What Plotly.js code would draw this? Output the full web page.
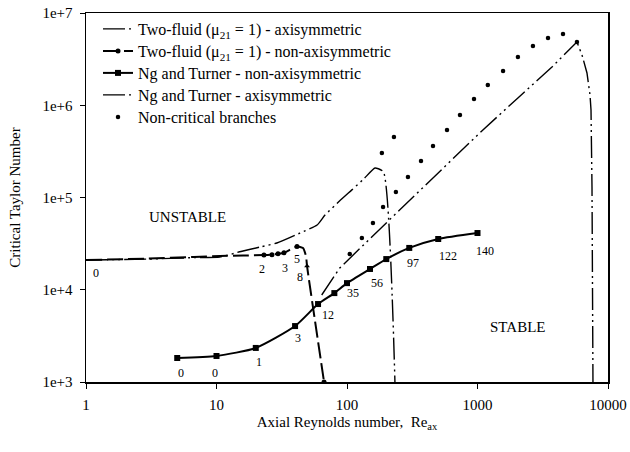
<!DOCTYPE html>
<html>
<head>
<meta charset="utf-8">
<script src="https://cdn.plot.ly/plotly-3.0.1.min.js"></script>
<style>
html,body{margin:0;padding:0;background:#fff;}
#chart{width:630px;height:452px;}
</style>
</head>
<body>
<div id="chart"></div>
<script>
// ---- Data ----
// Two-fluid (mu21 = 1) - axisymmetric
const tfaX = [1, 3, 6.7, 10.6, 15.4, 21.5, 29, 43.6, 59, 67.8, 88, 109, 135, 164, 190, 233];
const tfaY = [21000, 21500, 22300, 22600, 26000, 29000, 32100, 41200, 50300, 64500, 92000, 121000, 160000, 209000, 190000, 1000];

// Two-fluid (mu21 = 1) - non-axisymmetric
const tfnX = [1, 3, 6.7, 10.6, 16, 23.1, 26.6, 29.6, 32.9, 41.4, 46, 48.5, 49.4, 66.7];
const tfnY = [21000, 21800, 22700, 23200, 23500, 23800, 24000, 24500, 25200, 29400, 28300, 23200, 18100, 1000];
const tfnMarked = [false, false, false, false, false, true, true, true, true, true, false, false, true, true];
const tfnLabels = ['', '', '', '', '', '2', '', '', '3', '5', '', '', '8', ''];

// Ng and Turner - non-axisymmetric
const ntX = [5, 10, 20, 40, 60, 80, 100, 150, 200, 300, 500, 1000];
const ntY = [1820, 1915, 2340, 4040, 7000, 9200, 11800, 16800, 21500, 28400, 35500, 41200];
const ntLabels = ['0', '0', '1', '3', '12', '', '35', '56', '', '97', '122', '140'];

// Ng and Turner - axisymmetric
const naX = [64, 88, 203, 304, 774, 1100, 2040, 3720, 5780, 6320, 6900, 7280, 7410, 7540, 7670];
const naY = [8770, 17200, 54200, 94000, 340000, 540000, 1200000, 2600000, 4850000, 3510000, 2240000, 1290000, 889000, 130000, 1000];

// Non-critical branches
const ncAX = [105, 130, 158, 189, 237, 293, 369, 456, 584, 734, 940, 1200, 1570, 2040, 2660, 3470, 4520, 5780];
const ncAY = [24400, 36400, 53000, 78900, 115000, 167000, 249000, 362000, 539000, 784000, 1170000, 1660000, 2350000, 3330000, 4390000, 5360000, 5920000, 4850000];
const ncBX = [185, 229];
const ncBY = [303000, 453000];

// Axis ticks
const xTickVals = [1, 10, 100, 1000, 10000];
const xTickText = ['1', '10', '100', '1000', '10000'];
const yTickVals = [1e3, 1e4, 1e5, 1e6, 1e7];
const yTickText = ['1e+3', '1e+4', '1e+5', '1e+6', '1e+7'];

// ---- Styling ----
const FONT = 'Liberation Serif, Times New Roman, serif';
const dashDotDot = '22px,4px,2px,4px,2px,4px';

const traces = [
  {
    x: tfaX, y: tfaY, name: 'Two-fluid (\u03bc<sub>21</sub> = 1) - axisymmetric',
    mode: 'lines', legend: 'legend',
    line: {color: '#000', width: 1.4, dash: dashDotDot, shape: 'spline', smoothing: 0.5}
  },
  {
    x: tfnX, y: tfnY, name: 'Two-fluid (\u03bc<sub>21</sub> = 1) - non-axisymmetric',
    mode: 'lines+markers', legend: 'legend2',
    line: {color: '#000', width: 2, dash: '16px,5px', shape: 'spline', smoothing: 0.5},
    marker: {
      color: '#000', size: 5,
      symbol: tfnLabels.map(l => l === '8' ? 'triangle-up' : 'circle')
    },
    selectedpoints: tfnMarked.map((m, i) => m ? i : -1).filter(i => i >= 0),
    selected: {marker: {opacity: 1}},
    unselected: {marker: {opacity: 0}}
  },
  {
    x: ntX, y: ntY, name: 'Ng and Turner - non-axisymmetric',
    mode: 'lines+markers', legend: 'legend3',
    line: {color: '#000', width: 2, shape: 'spline', smoothing: 0.6},
    marker: {color: '#000', size: 6, symbol: 'square'}
  },
  {
    x: naX, y: naY, name: 'Ng and Turner - axisymmetric',
    mode: 'lines', legend: 'legend4',
    line: {color: '#000', width: 1.4, dash: dashDotDot}
  },
  {
    x: ncAX, y: ncAY, name: 'Non-critical branches',
    mode: 'markers', legend: 'legend5',
    marker: {color: '#000', size: 4.5, symbol: 'circle'}
  },
  {
    x: ncBX, y: ncBY, name: 'Non-critical branches',
    mode: 'markers', showlegend: false,
    marker: {color: '#000', size: 4.5, symbol: 'circle'}
  }
];

// Point labels
const annotations = [];
const ntDx = [4, -2, 3, 3, 10, 0, 6, 7, 0, 4, 10, 7];
const ntDy = [-15, -17, -14, -12, -11, 0, -10, -14, 0, -15, -17, -18];
ntLabels.forEach((t, i) => {
  if (!t) return;
  annotations.push({
    x: Math.log10(ntX[i]), y: Math.log10(ntY[i]), text: t, showarrow: false,
    xshift: ntDx[i], yshift: ntDy[i], font: {family: FONT, size: 12, color: '#000'}
  });
});
const tfnDx = {'2': -2, '3': 1, '5': 0, '8': -7};
const tfnDy = {'2': -14, '3': -15, '5': -12, '8': -11};
tfnLabels.forEach((t, i) => {
  if (!t) return;
  annotations.push({
    x: Math.log10(tfnX[i]), y: Math.log10(tfnY[i]), text: t, showarrow: false,
    xshift: tfnDx[t], yshift: tfnDy[t], font: {family: FONT, size: 12, color: '#000'}
  });
});
// Leftmost "0" label for two-fluid curves
annotations.push({
  x: 0, y: Math.log10(tfaY[0]), text: '0', showarrow: false,
  xanchor: 'left', xshift: 5, yshift: -13, font: {family: FONT, size: 12, color: '#000'}
});
annotations.push({x: 0.774, y: 4.789, text: 'UNSTABLE', showarrow: false,
  font: {family: FONT, size: 15, color: '#000'}});
annotations.push({x: 3.303, y: 3.596, text: 'STABLE', showarrow: false,
  font: {family: FONT, size: 15, color: '#000'}});

const axisCommon = {
  type: 'log', showgrid: false, zeroline: false,
  showline: true, linecolor: '#000', linewidth: 1.5, mirror: true,
  ticks: 'outside', ticklen: 5, tickwidth: 1, tickcolor: '#000',
  tickfont: {family: FONT, size: 15, color: '#000'}
};

// one single-entry legend per row so each row sits where the reference has it
const plotTop = 13, plotBottom = 382;
const legendRows = [29, 51, 73, 95, 117];
function legendAt(rowPx) {
  return {
    x: 0.023, y: (plotBottom - rowPx) / (plotBottom - plotTop),
    xanchor: 'left', yanchor: 'middle',
    bgcolor: 'rgba(0,0,0,0)', borderwidth: 0,
    font: {family: FONT, size: 16, color: '#000'}
  };
}

const layout = {
  width: 630, height: 452,
  margin: {l: 86, r: 22, t: 13, b: 70},
  paper_bgcolor: '#fff', plot_bgcolor: '#fff',
  font: {family: FONT, color: '#000'},
  showlegend: true,
  legend: legendAt(legendRows[0]),
  legend2: legendAt(legendRows[1]),
  legend3: legendAt(legendRows[2]),
  legend4: legendAt(legendRows[3]),
  legend5: legendAt(legendRows[4]),
  xaxis: Object.assign({}, axisCommon, {
    range: [0, 4], tickvals: xTickVals, ticktext: xTickText,
    ticklabelstandoff: 3,
    title: {text: 'Axial Reynolds number,  Re<sub>ax</sub>', font: {family: FONT, size: 15, color: '#000'}, standoff: 5}
  }),
  yaxis: Object.assign({}, axisCommon, {
    range: [3, 7], tickvals: yTickVals, ticktext: yTickText,
    ticklabelstandoff: 4,
    title: {text: 'Critical Taylor Number', font: {family: FONT, size: 15, color: '#000'}, standoff: 18}
  }),
  annotations: annotations
};

Plotly.newPlot('chart', traces, layout, {displayModeBar: false, staticPlot: true});
</script>
</body>
</html>
